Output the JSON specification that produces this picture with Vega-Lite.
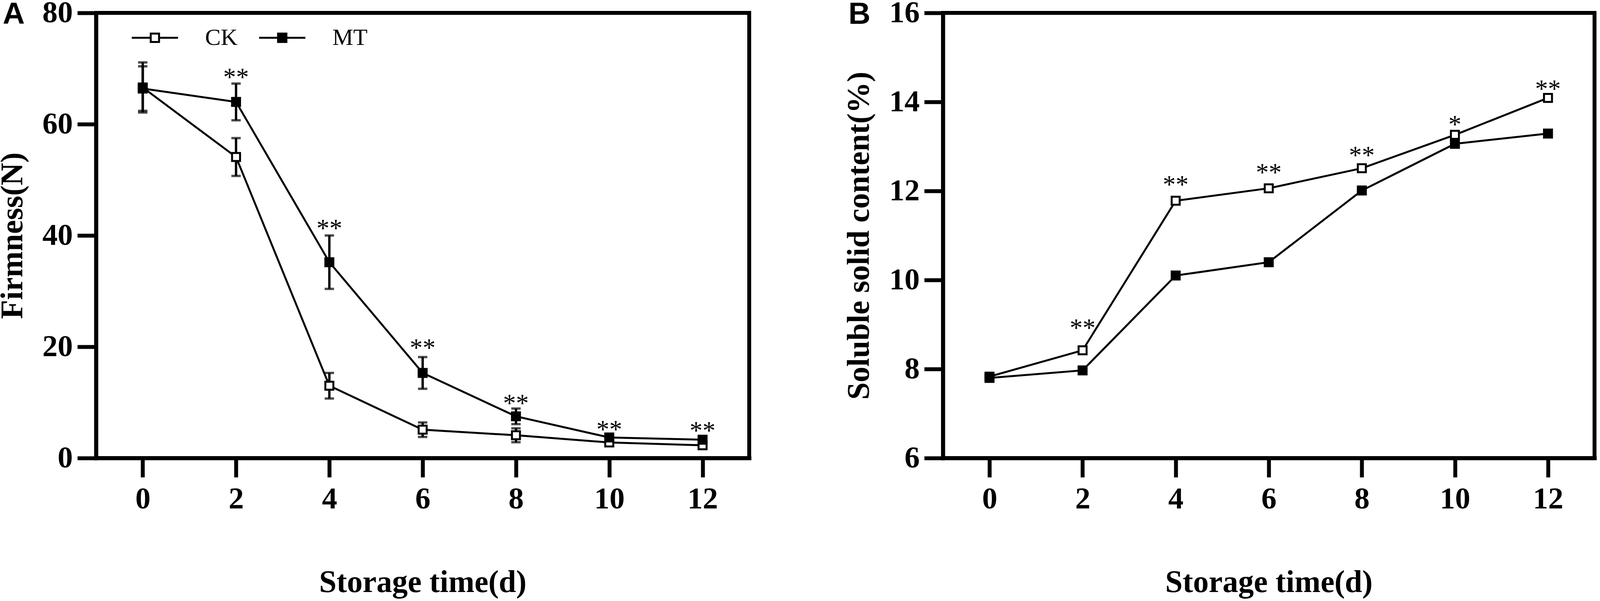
{
  "$schema": "https://vega.github.io/schema/vega-lite/v6.json",
  "usermeta": {"embedOptions": {"actions": false}},
  "background": "white",
  "autosize": {"type": "none"},
  "padding": {"left": 246, "top": 33, "right": 3959, "bottom": 1506},
  "spacing": 496,
  "bounds": "flush",
  "datasets": {
    "firm": [
      {"day": 0, "series": "CK", "mean": 66.6, "err": 4.5},
      {"day": 2, "series": "CK", "mean": 54.1, "err": 3.4},
      {"day": 4, "series": "CK", "mean": 13.0, "err": 2.3},
      {"day": 6, "series": "CK", "mean": 5.1, "err": 1.3},
      {"day": 8, "series": "CK", "mean": 4.1, "err": 1.25},
      {"day": 10, "series": "CK", "mean": 2.8, "err": 0.6},
      {"day": 12, "series": "CK", "mean": 2.3, "err": 0.6},
      {"day": 0, "series": "MT", "mean": 66.4, "err": 4.0},
      {"day": 2, "series": "MT", "mean": 64.0, "err": 3.3},
      {"day": 4, "series": "MT", "mean": 35.2, "err": 4.8},
      {"day": 6, "series": "MT", "mean": 15.3, "err": 2.85},
      {"day": 8, "series": "MT", "mean": 7.5, "err": 1.4},
      {"day": 10, "series": "MT", "mean": 3.7, "err": 0.5},
      {"day": 12, "series": "MT", "mean": 3.3, "err": 0.5}
    ],
    "ssc": [
      {"day": 0, "series": "CK", "mean": 7.83},
      {"day": 2, "series": "CK", "mean": 8.42},
      {"day": 4, "series": "CK", "mean": 11.78},
      {"day": 6, "series": "CK", "mean": 12.06},
      {"day": 8, "series": "CK", "mean": 12.51},
      {"day": 10, "series": "CK", "mean": 13.26},
      {"day": 12, "series": "CK", "mean": 14.09},
      {"day": 0, "series": "MT", "mean": 7.80},
      {"day": 2, "series": "MT", "mean": 7.97},
      {"day": 4, "series": "MT", "mean": 10.10},
      {"day": 6, "series": "MT", "mean": 10.40},
      {"day": 8, "series": "MT", "mean": 12.01},
      {"day": 10, "series": "MT", "mean": 13.06},
      {"day": 12, "series": "MT", "mean": 13.29}
    ],
    "starsA": [
      {"day": 2, "pos": 69.1, "sig": "**"},
      {"day": 4, "pos": 42.0, "sig": "**"},
      {"day": 6, "pos": 20.5, "sig": "**"},
      {"day": 8, "pos": 10.5, "sig": "**"},
      {"day": 10, "pos": 5.8, "sig": "**"},
      {"day": 12, "pos": 5.6, "sig": "**"}
    ],
    "starsB": [
      {"day": 2, "pos": 9.01, "sig": "**"},
      {"day": 4, "pos": 12.23, "sig": "**"},
      {"day": 6, "pos": 12.50, "sig": "**"},
      {"day": 8, "pos": 12.89, "sig": "**"},
      {"day": 10, "pos": 13.58, "sig": "*"},
      {"day": 12, "pos": 14.38, "sig": "**"}
    ]
  },
  "resolve": {"legend": {"fill": "independent"}},
  "hconcat": [
    {
      "width": 1672,
      "height": 1140,
      "title": {"text": "A", "anchor": "start", "frame": "group", "font": "Liberation Sans", "fontSize": 78, "fontWeight": "bold", "color": "black", "offset": 0, "baseline": "alphabetic", "align": "left", "dx": -239, "dy": 145},
      "encoding": {
        "x": {"field": "day", "type": "quantitative", "scale": {"domain": [-1, 13], "nice": false, "zero": false},
              "axis": {"values": [0, 2, 4, 6, 8, 10, 12], "title": "Storage time(d)", "titleY": 342, "titleBaseline": "alphabetic", "labelPadding": 17}},
        "y": {"field": "mean", "type": "quantitative", "scale": {"domain": [0, 80], "nice": false},
              "axis": {"values": [0, 20, 40, 60, 80], "title": "Firmness(N)", "titleX": -190, "titleY": 570, "titleAngle": -90, "titleBaseline": "alphabetic", "titleAlign": "center", "labelPadding": 12, "tickSize": 48}}
      },
      "layer": [
        {
          "data": {"name": "firm"},
          "mark": {"type": "errorbar", "ticks": {"size": 24, "thickness": 6, "color": "black"}, "thickness": 6, "color": "black"},
          "encoding": {"yError": {"field": "err"}, "detail": {"field": "series"}}
        },
        {
          "data": {"name": "firm"},
          "mark": {"type": "line", "color": "black", "strokeWidth": 5},
          "encoding": {"detail": {"field": "series"}}
        },
        {
          "data": {"name": "firm"},
          "mark": {"type": "point", "shape": "square", "size": 420, "filled": true, "stroke": "black", "strokeWidth": 5, "opacity": 1},
          "encoding": {
            "fill": {"field": "series", "type": "nominal", "scale": {"domain": ["CK", "MT"], "range": ["white", "black"]},
                     "legend": {"orient": "none", "legendX": 118, "legendY": 31, "direction": "horizontal", "title": null,
                                "symbolType": "M-2,0H-0.36M0.36,0H2M-0.36,-0.36H0.36V0.36H-0.36Z", "symbolSize": 3500, "symbolStrokeWidth": 5, "symbolStrokeColor": "black", "symbolOpacity": 1,
                                "labelFont": "Liberation Serif", "labelFontSize": 60, "labelFontWeight": "normal", "labelColor": "black", "labelOffset": 96, "columnPadding": 44, "padding": 0}}
          }
        },
        {
          "data": {"name": "starsA"},
          "mark": {"type": "text", "font": "Liberation Serif", "fontSize": 66, "baseline": "middle", "align": "center", "dy": 11, "color": "black"},
          "encoding": {"y": {"field": "pos", "type": "quantitative"}, "text": {"field": "sig"}}
        }
      ]
    },
    {
      "width": 1668,
      "height": 1140,
      "title": {"text": "B", "anchor": "start", "frame": "group", "font": "Liberation Sans", "fontSize": 78, "fontWeight": "bold", "color": "black", "offset": 0, "baseline": "alphabetic", "align": "left", "dx": -242, "dy": 145},
      "encoding": {
        "x": {"field": "day", "type": "quantitative", "scale": {"domain": [-1, 13], "nice": false, "zero": false},
              "axis": {"values": [0, 2, 4, 6, 8, 10, 12], "title": "Storage time(d)", "titleY": 342, "titleBaseline": "alphabetic", "labelPadding": 17}},
        "y": {"field": "mean", "type": "quantitative", "scale": {"domain": [6, 16], "nice": false, "zero": false},
              "axis": {"values": [6, 8, 10, 12, 14, 16], "title": "Soluble solid content(%)", "titleX": -191, "titleY": 570, "titleAngle": -90, "titleBaseline": "alphabetic", "titleAlign": "center", "labelPadding": 12, "tickSize": 48}}
      },
      "layer": [
        {
          "data": {"name": "ssc"},
          "mark": {"type": "line", "color": "black", "strokeWidth": 5},
          "encoding": {"detail": {"field": "series"}}
        },
        {
          "data": {"name": "ssc"},
          "mark": {"type": "point", "shape": "square", "size": 420, "filled": true, "stroke": "black", "strokeWidth": 5, "opacity": 1},
          "encoding": {
            "fill": {"field": "series", "type": "nominal", "scale": {"domain": ["CK", "MT"], "range": ["white", "black"]}, "legend": null}
          }
        },
        {
          "data": {"name": "starsB"},
          "mark": {"type": "text", "font": "Liberation Serif", "fontSize": 66, "baseline": "middle", "align": "center", "dy": 11, "color": "black"},
          "encoding": {"y": {"field": "pos", "type": "quantitative"}, "text": {"field": "sig"}}
        }
      ]
    }
  ],
  "config": {
    "view": {"stroke": "black", "strokeWidth": 10, "fill": null},
    "axis": {
      "grid": false,
      "domainColor": "black", "domainWidth": 10, "domainCap": "square",
      "tickColor": "black", "tickWidth": 10, "tickSize": 49,
      "labelFont": "Liberation Serif", "labelFontSize": 78, "labelFontWeight": "bold", "labelColor": "black", "labelOverlap": false, "labelFlush": false,
      "titleFont": "Liberation Serif", "titleFontSize": 80, "titleFontWeight": "bold", "titleColor": "black"
    }
  }
}
